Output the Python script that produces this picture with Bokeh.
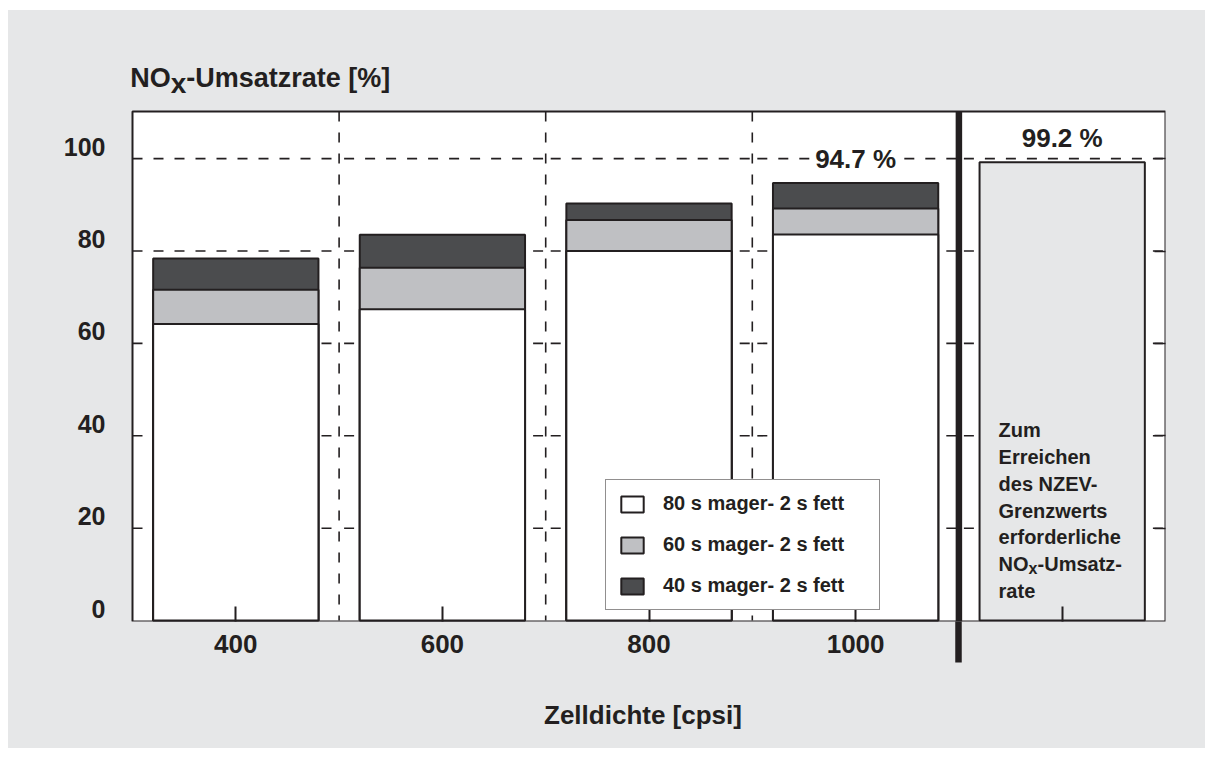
import numpy as np
from bokeh.plotting import figure
from bokeh.models import (Range1d, LinearAxis, FixedTicker, Legend, LegendItem, ColumnDataSource)
from bokeh.core.properties import value
from bokeh.embed import file_html
from bokeh.resources import INLINE

# ---------------- data ----------------
categories = ["400", "600", "800", "1000"]          # Zelldichte [cpsi]
rate_80s = [64.2, 67.4, 80.0, 83.6]                 # 80 s mager - 2 s fett
rate_60s = [71.6, 76.4, 86.7, 89.2]                 # 60 s mager - 2 s fett
rate_40s = [78.4, 83.5, 90.3, 94.7]                 # 40 s mager - 2 s fett
limit_value = 99.2                                  # NZEV requirement
series_labels = ["80 s mager- 2 s fett", "60 s mager- 2 s fett", "40 s mager- 2 s fett"]
y_ticks = [0, 20, 40, 60, 80, 100]
grid_values = [20, 40, 60, 80, 100]
limit_lines = ["Zum", "Erreichen", "des NZEV-", "Grenzwerts", "erforderliche", None, "rate"]
limit_sub_line = ["NO", "x", "-Umsatz-"]
title_parts = ["NO", "x", "-Umsatzrate [%]"]
x_title = "Zelldichte [cpsi]"

# ---------------- style ----------------
BG = "#e6e7e8"
INK = "#231f20"
DARK = "#4b4c4e"
LIGHT = "#bfc0c3"
FONT = "Liberation Sans"

n_slots = len(categories) + 1
centers = np.arange(n_slots) + 0.5
bar_x = centers[:len(categories)]
divider = float(len(categories))
Y0, Y1 = -0.2, 110.2                 # extent of the white plot box
PXU = 510 / (Y1 - Y0)                # pixels per y unit
YTOP = Y1 + 61 / PXU                 # frame extends above the box for the title
XPAD = 0.0581                        # frame extends left of the box a little

p = figure(width=1197, height=738, x_range=Range1d(-XPAD, n_slots), y_range=Range1d(Y0, YTOP),
           x_axis_location=None, y_axis_location=None,
           toolbar_location=None, output_backend="svg",
           min_border_left=112, min_border_right=40, min_border_top=40, min_border_bottom=127,
           background_fill_color=BG, border_fill_color=BG, outline_line_color=None)
p.margin = (10, 0, 0, 8)
p.styles = {"background-color": BG}
for g in p.grid:
    g.visible = False

# white plot box
p.quad(left=[0], right=[n_slots], bottom=[Y0], top=[Y1],
       fill_color="white", line_color=INK, line_width=2)

# dashed gridlines per slot
gv = grid_values
p.segment(x0=[0] * len(gv), x1=[1] * len(gv), y0=gv, y1=gv,
          line_color=INK, line_width=1.6, line_dash="10 11", line_dash_offset=0)
xs0, xs1, ys = [], [], []
for i in range(1, n_slots):
    for v in gv:
        xs0.append(i); xs1.append(i + 1); ys.append(v)
p.segment(x0=xs0, x1=xs1, y0=ys, y1=ys,
          line_color=INK, line_width=1.6, line_dash="10 11", line_dash_offset=16)

# dashed vertical dividers
divs = list(range(1, len(categories)))
p.segment(x0=divs, x1=divs, y0=[Y1] * len(divs), y1=[0] * len(divs),
          line_color=INK, line_width=1.6, line_dash="10 11")

# bars (overlaid, tallest first)
src = ColumnDataSource(dict(x=bar_x, r80=rate_80s, r60=rate_60s, r40=rate_40s))
r40 = p.vbar(x="x", top="r40", bottom=0, width=0.8, source=src,
             fill_color=DARK, line_color=INK, line_width=2)
r60 = p.vbar(x="x", top="r60", bottom=0, width=0.8, source=src,
             fill_color=LIGHT, line_color=INK, line_width=2)
r80 = p.vbar(x="x", top="r80", bottom=0, width=0.8, source=src,
             fill_color="white", line_color=INK, line_width=2)
p.vbar(x=[centers[-1]], top=[limit_value], bottom=0, width=0.8,
       fill_color=BG, line_color=INK, line_width=2)

# thick divider (continued below the box by the axis' minor tick)
p.segment(x0=[divider], x1=[divider], y0=[Y1], y1=[Y0], line_color=INK, line_width=6.5)

# value labels
p.text(x=[bar_x[-1], centers[-1]], y=[rate_40s[-1], limit_value],
       text=[f"{rate_40s[-1]:.1f} %", f"{limit_value:.1f} %"],
       y_offset=-24, text_align="center", text_baseline="middle",
       background_fill_color="white", padding=2,
       text_font=value(FONT), text_font_style="bold", text_font_size="26px", text_color=INK)

# text inside limit bar
bx = centers[-1] - 0.4
first_mid = -190.4
line_step = 26.8
idx = [k for k, t in enumerate(limit_lines) if t is not None]
txt_kw = dict(text_baseline="middle", text_align="left", text_font=value(FONT),
              text_font_style="bold", text_color=INK)
p.text(x=[bx] * len(idx), y=[0] * len(idx), text=[limit_lines[k] for k in idx],
       x_offset=19, y_offset=[first_mid + line_step * k for k in idx],
       text_font_size="20px", **txt_kw)
ks = limit_lines.index(None)
yo = first_mid + line_step * ks
p.text(x=[bx], y=[0], text=[limit_sub_line[0]], x_offset=19, y_offset=yo,
       text_font_size="20px", **txt_kw)
p.text(x=[bx], y=[0], text=[limit_sub_line[1]], x_offset=49, y_offset=yo + 4,
       text_font_size="16px", **txt_kw)
p.text(x=[bx], y=[0], text=[limit_sub_line[2]], x_offset=58, y_offset=yo,
       text_font_size="20px", **txt_kw)

# y-axis title (NOx with subscript) above the box
p.text(x=[0], y=[Y1], text=[title_parts[0]], x_offset=-2.3, y_offset=-34,
       text_font_size="27px", **txt_kw)
p.text(x=[0], y=[Y1], text=[title_parts[1]], x_offset=38.2, y_offset=-28,
       text_font_size="28px", **txt_kw)
p.text(x=[0], y=[Y1], text=[title_parts[2]], x_offset=53.8, y_offset=-34,
       text_font_size="27px", **txt_kw)

# x axis
xaxis = LinearAxis(ticker=FixedTicker(ticks=[float(c) for c in centers], minor_ticks=[divider]),
                   major_label_overrides={float(c): lab for c, lab in zip(centers, categories + [""])},
                   axis_label=x_title, axis_line_color=None,
                   major_tick_in=15, major_tick_out=0, major_tick_line_color=INK,
                   major_tick_line_width=2,
                   minor_tick_in=0, minor_tick_out=41, minor_tick_line_color=INK,
                   minor_tick_line_width=6.5,
                   major_label_standoff=-28, axis_label_standoff=44,
                   major_label_text_font=FONT, major_label_text_font_style="bold",
                   major_label_text_font_size="26px", major_label_text_color=INK,
                   axis_label_text_font=FONT, axis_label_text_font_style="bold",
                   axis_label_text_font_size="26px", axis_label_text_color=INK)
p.add_layout(xaxis, "below")

# y axis labels (set slightly above the tick positions, as in the original)
shift = 12 / PXU
p.extra_y_ranges = {"lab": Range1d(Y0 - shift, YTOP - shift)}
yaxis = LinearAxis(y_range_name="lab", ticker=FixedTicker(ticks=y_ticks),
                   axis_line_color=None, major_tick_in=0, major_tick_out=0,
                   major_label_standoff=15,
                   major_label_text_font=FONT, major_label_text_font_style="bold",
                   major_label_text_font_size="25px", major_label_text_color=INK)
p.add_layout(yaxis, "left")

raxis = LinearAxis(ticker=FixedTicker(ticks=grid_values), axis_line_color=None,
                   major_tick_in=11, major_tick_out=0, major_tick_line_color=INK,
                   major_tick_line_width=1.6, major_label_text_color=None,
                   major_label_text_font_size="10px")
p.add_layout(raxis, "right")

# legend
legend = Legend(items=[LegendItem(label=series_labels[0], renderers=[r80]),
                       LegendItem(label=series_labels[1], renderers=[r60]),
                       LegendItem(label=series_labels[2], renderers=[r40])],
                location=(485, 11), margin=0, padding=12, spacing=18,
                glyph_width=28, glyph_height=20, label_height=20, label_width=204,
                label_standoff=17,
                border_line_color=INK, border_line_width=1.5,
                background_fill_color="white", background_fill_alpha=1,
                label_text_font=FONT, label_text_font_style="bold",
                label_text_font_size="20px", label_text_color=INK)
p.add_layout(legend)

open("out.html", "w").write(file_html(p, INLINE, title="NOx-Umsatzrate"))
